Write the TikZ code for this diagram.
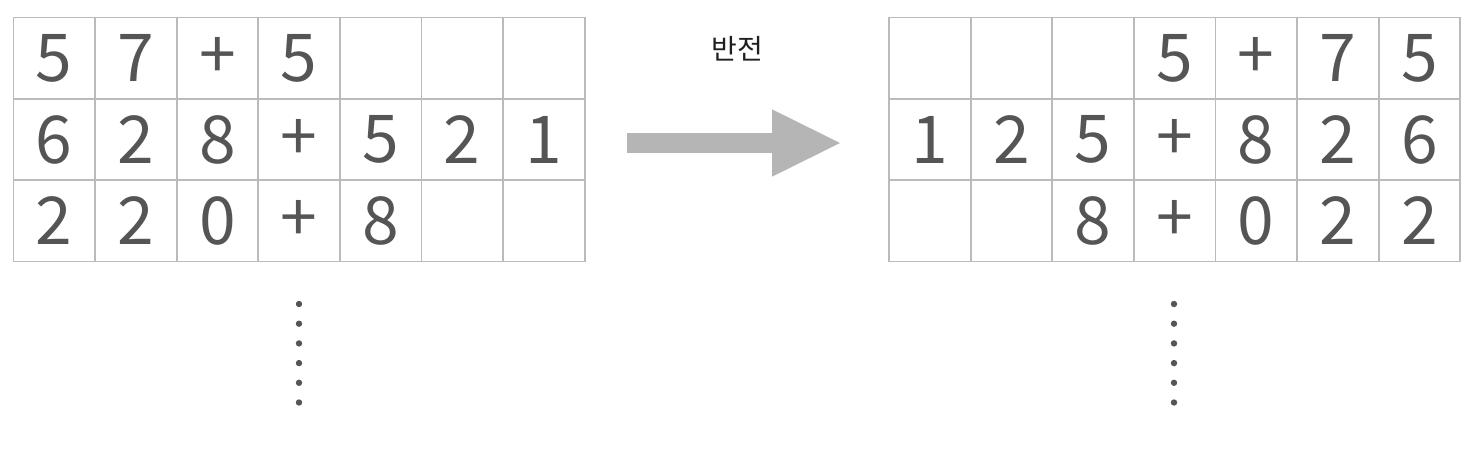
\documentclass[tikz,border=0pt]{standalone}
\usepackage{fontspec}
\setmainfont{Noto Sans CJK KR}
\usetikzlibrary{arrows.meta, positioning}

\definecolor{linegray}{HTML}{BBBBBB}
\definecolor{digitgray}{HTML}{555555}
\definecolor{arrowgray}{HTML}{B5B5B5}

\begin{document}
\begin{tikzpicture}[x=1pt, y=-1pt,
		cell/.style={draw=linegray, line width=1.8pt, rectangle, inner sep=0pt,
			minimum width=81.6pt, minimum height=81.3pt,
			text=digitgray, font=\fontsize{66}{66}\selectfont},
		arrow/.style={arrowgray, line width=19.4pt,
			-{Triangle[length=68pt, width=67.4pt, line width=0pt]}},
		dot/.style={fill=digitgray}]
	\useasboundingbox (0,0) rectangle (1478,458);

	% 왼쪽 표
	\foreach \cells [count=\r] in {{5,7,+,5,{},{},{}},{6,2,8,+,5,2,1},{2,2,0,+,8,{},{}}}
		\foreach \c [count=\k] in \cells
			\node[cell] (L-\r-\k) at ({13.5+(\k-0.5)*81.6}, {17.5+(\r-0.5)*81.33}) {\c};

	% 오른쪽 표
	\foreach \cells [count=\r] in {{{},{},{},5,+,7,5},{1,2,5,+,8,2,6},{{},{},8,+,0,2,2}}
		\foreach \c [count=\k] in \cells
			\node[cell] (R-\r-\k) at ({889+(\k-0.5)*81.6}, {17.5+(\r-0.5)*81.33}) {\c};

	% 화살표
	\coordinate (from) at (627,143);
	\coordinate (to) at (840,143);
	\draw[arrow] (from) -- (to);
	\node[font=\fontsize{28}{28}\selectfont, text=black!88] (flip) at (737,49) {반전};

	% 점
	\foreach \i in {0,...,5} {
		\fill[dot] (299,{304+\i*19.7}) circle (3.2);
		\fill[dot] (1174,{304+\i*19.7}) circle (3.2);
	}
\end{tikzpicture}
\end{document}
